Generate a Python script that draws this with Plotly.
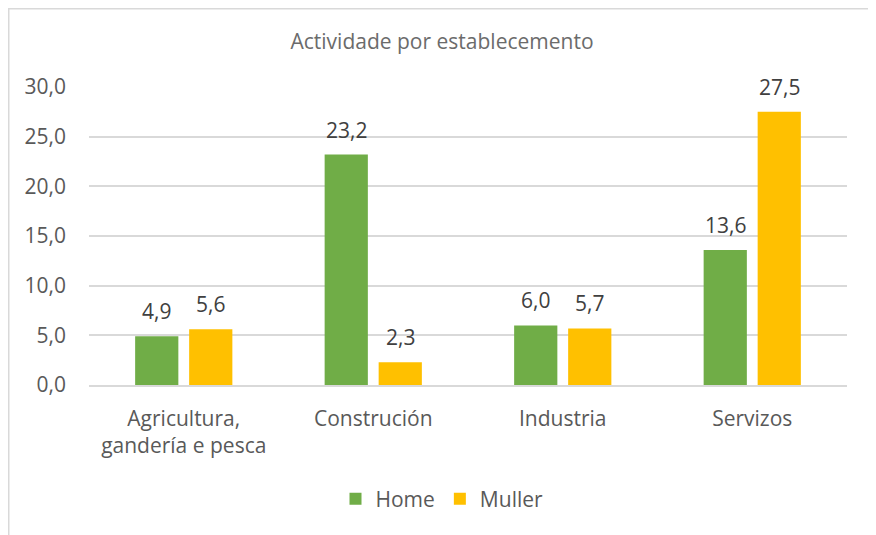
import plotly.graph_objects as go

categories = ["Agricultura,<br>gandería e pesca", "Construción", "Industria", "Servizos"]
home = [4.9, 23.2, 6.0, 13.6]
muller = [5.6, 2.3, 5.7, 27.5]
series_names = ["Home", "Muller"]
colors = ["#70AD47", "#FFC000"]
FONT = "Open Sans"
FS = 21

fig = go.Figure()
for name, vals, col in zip(series_names, [home, muller], colors):
    fig.add_trace(go.Bar(x=categories, y=vals, name=name, marker=dict(color=col, line=dict(width=0))))

def fmt(v):
    return f"{v:.1f}".replace(".", ",")

annotations = []
for vals, shift in [(home, -27), (muller, 27)]:
    for c, v in zip(categories, vals):
        annotations.append(dict(x=c, y=v, xref="x", yref="y", text=fmt(v), showarrow=False,
                                xshift=shift, yshift=25, yanchor="middle",
                                font=dict(family=FONT, size=FS, color="#404040")))

L, R, T, B = 81, 37, 79, 158
W, H = 876, 535
pw, ph = W - L - R, H - T - B

fig.update_layout(
    width=W, height=H,
    margin=dict(l=L, r=R, t=T, b=B),
    paper_bgcolor="white", plot_bgcolor="white",
    separators=",.",
    barmode="group", bargap=0.43, bargroupgap=0.2,
    title=dict(text="Actividade por establecemento", x=434 / W, xanchor="center",
               y=1 - 34 / H, yanchor="middle", yref="container",
               font=dict(family=FONT, size=FS, color="#6b6b6b")),
    font=dict(family=FONT, size=FS, color="#595959"),
    xaxis=dict(showgrid=False, showline=True, linecolor="#D9D9D9", linewidth=1.5,
               ticks="", ticklabelstandoff=14,
               tickfont=dict(family=FONT, size=FS, color="#595959")),
    yaxis=dict(range=[0, 30], dtick=5, tickformat=".1f", showgrid=True, gridcolor="#D9D9D9",
               gridwidth=1.5, zeroline=False, showline=False, ticks="",
               ticklabelstandoff=22,
               tickfont=dict(family=FONT, size=FS, color="#595959")),
    legend=dict(orientation="h", x=(434 - L) / pw, xanchor="center",
                y=(H - B - 491) / ph, yanchor="middle",
                font=dict(family=FONT, size=FS, color="#595959"), traceorder="normal"),
    annotations=annotations,
    shapes=[dict(type="rect", xref="paper", yref="paper",
                 x0=(0.75 - L) / pw, x1=(865 - L) / pw, y0=-0.8, y1=(H - B - 0.75) / ph,
                 line=dict(color="#D9D9D9", width=1.5), fillcolor="rgba(0,0,0,0)", layer="below")],
)

fig.write_html("out.html")
